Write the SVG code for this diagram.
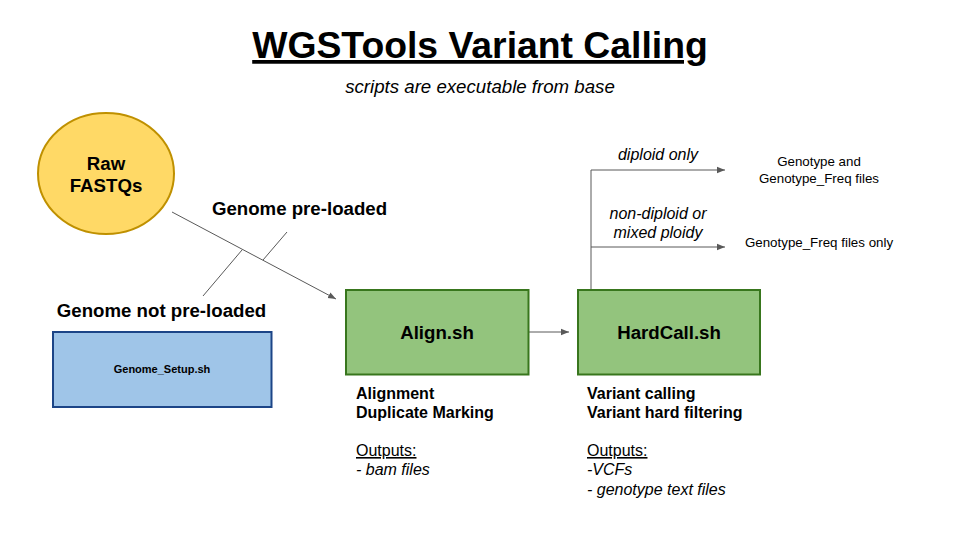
<svg xmlns="http://www.w3.org/2000/svg" width="960" height="540" viewBox="0 0 960 540">
<defs>
<marker id="arr" viewBox="0 0 10 10" refX="10" refY="5" markerWidth="8" markerHeight="8" markerUnits="userSpaceOnUse" orient="auto">
<path d="M0,1 L10,5 L0,9 z" fill="#595959"/>
</marker>
<style>
text{font-family:"Liberation Sans",Arial,sans-serif;fill:#000}
.b{font-weight:bold}
.i{font-style:italic}
.line{stroke:#595959;stroke-width:1;fill:none}
.green{fill:#93c47d;stroke:#38761d;stroke-width:2}
</style>
</defs>
<rect width="960" height="540" fill="#fff"/>
<text x="480" y="58" font-size="37.33" class="b" text-anchor="middle" text-decoration="underline">WGSTools Variant Calling</text>
<text x="480" y="93" font-size="18.67" class="i" text-anchor="middle">scripts are executable from base</text>

<g id="connectors">
<line class="line" x1="172" y1="212" x2="336" y2="299" marker-end="url(#arr)"/>
<line class="line" x1="203" y1="296" x2="242" y2="250"/>
<line class="line" x1="263" y1="260" x2="287" y2="232"/>
<line class="line" x1="529" y1="332" x2="569" y2="332" marker-end="url(#arr)"/>
<polyline class="line" points="591,290 591,170 725,170" marker-end="url(#arr)"/>
<line class="line" x1="591" y1="247" x2="725" y2="247" marker-end="url(#arr)"/>
</g>

<g id="raw">
<ellipse cx="106" cy="173.5" rx="68" ry="60.5" fill="#ffd966" stroke="#bf9000" stroke-width="2"/>
<text x="106" y="170" font-size="18.67" class="b" text-anchor="middle">Raw</text>
<text x="106" y="192" font-size="18.67" class="b" text-anchor="middle">FASTQs</text>
</g>

<g id="label-preloaded">
<text x="299.5" y="215" font-size="18.67" class="b" text-anchor="middle">Genome pre-loaded</text>
</g>
<g id="label-notpreloaded">
<text x="161.5" y="317" font-size="18.67" class="b" text-anchor="middle">Genome not pre-loaded</text>
</g>

<g id="genome-setup">
<rect x="53" y="332" width="218.5" height="75" fill="#9fc5e8" stroke="#1c4587" stroke-width="2"/>
<text x="162" y="373" font-size="11" class="b" text-anchor="middle">Genome_Setup.sh</text>
</g>

<g id="align">
<rect class="green" x="346" y="290" width="182.5" height="84.5"/>
<text x="437" y="339" font-size="18.67" class="b" text-anchor="middle">Align.sh</text>
</g>
<g id="align-desc">
<text x="356" y="399" font-size="16" class="b">Alignment</text>
<text x="356" y="418" font-size="16" class="b">Duplicate Marking</text>
<text x="356" y="456" font-size="16" text-decoration="underline">Outputs:</text>
<text x="356" y="475" font-size="16" class="i">- bam files</text>
</g>

<g id="hardcall">
<rect class="green" x="578" y="290" width="182" height="84.5"/>
<text x="669" y="339" font-size="18.67" class="b" text-anchor="middle">HardCall.sh</text>
</g>
<g id="hardcall-desc">
<text x="587" y="399" font-size="16" class="b">Variant calling</text>
<text x="587" y="418" font-size="16" class="b">Variant hard filtering</text>
<text x="587" y="456" font-size="16" text-decoration="underline">Outputs:</text>
<text x="587" y="475" font-size="16" class="i">-VCFs</text>
<text x="587" y="495" font-size="16" class="i">- genotype text files</text>
</g>

<g id="branch-labels">
<text x="658" y="160" font-size="16" class="i" text-anchor="middle">diploid only</text>
<text x="658" y="219" font-size="16" class="i" text-anchor="middle">non-diploid or</text>
<text x="658" y="238" font-size="16" class="i" text-anchor="middle">mixed ploidy</text>
</g>

<g id="out-diploid">
<text x="819" y="166" font-size="13.33" text-anchor="middle">Genotype and</text>
<text x="819" y="183" font-size="13.33" text-anchor="middle">Genotype_Freq files</text>
</g>
<g id="out-nondiploid">
<text x="819" y="247" font-size="13.33" text-anchor="middle">Genotype_Freq files only</text>
</g>
</svg>
